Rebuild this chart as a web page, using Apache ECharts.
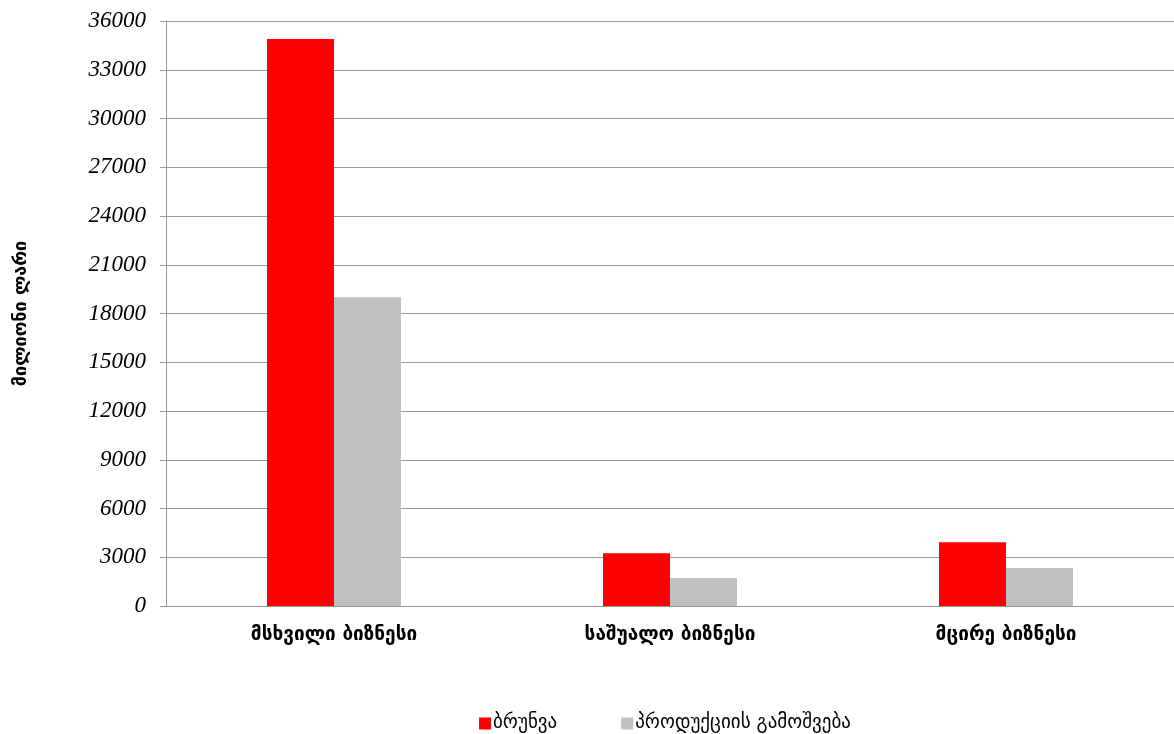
<!DOCTYPE html>
<html><head><meta charset="utf-8">
<script src="https://cdn.jsdelivr.net/npm/echarts@6/dist/echarts.min.js"></script>
<style>html,body{margin:0;padding:0;background:#fff}#c{width:1174px;height:734px}</style>
</head><body><div id="c"></div>
<script>
const categories = ['მსხვილი ბიზნესი', 'საშუალო ბიზნესი', 'მცირე ბიზნესი'];
const seriesNames = ['ბრუნვა', 'პროდუქციის გამოშვება'];
const turnover = [34900, 3240, 3920];
const output = [19000, 1720, 2340];
const yName = 'მილიონი ლარი';

const chart = echarts.init(document.getElementById('c'));
chart.setOption({
  animation: false,
  grid: {left: 166, right: 0, top: 21, bottom: 128},
  legend: {
    top: 709, left: 474, itemWidth: 12, itemHeight: 12, itemGap: 64,
    icon: 'rect',
    textStyle: {fontFamily: 'DejaVu Sans', fontSize: 19, color: '#000', padding: [0, 0, 0, -3]},
    data: seriesNames
  },
  xAxis: {
    type: 'category', data: categories,
    axisLine: {lineStyle: {color: '#999'}},
    axisTick: {show: false},
    axisLabel: {margin: 20, fontFamily: 'DejaVu Sans', fontWeight: 'bold', fontSize: 19, color: '#000'}
  },
  yAxis: {
    type: 'value', min: 0, max: 36000, interval: 3000,
    name: yName, nameLocation: 'middle', nameGap: 136, nameRotate: 90,
    nameTextStyle: {fontFamily: 'DejaVu Sans', fontWeight: 'bold', fontSize: 18, color: '#000'},
    axisLine: {show: true, lineStyle: {color: '#999'}},
    axisTick: {show: true, length: 6, lineStyle: {color: '#999'}},
    splitLine: {lineStyle: {color: '#999'}},
    axisLabel: {margin: 20, fontFamily: 'Liberation Serif', fontStyle: 'italic', fontSize: 23, color: '#000',
      formatter: v => String(v)}
  },
  series: [
    {name: seriesNames[0], type: 'bar', data: turnover, barWidth: 67, barGap: '0%', itemStyle: {color: '#ff0000'}},
    {name: seriesNames[1], type: 'bar', data: output, barWidth: 67, barGap: '0%', itemStyle: {color: '#c0c0c0'}}
  ]
});
</script></body></html>
